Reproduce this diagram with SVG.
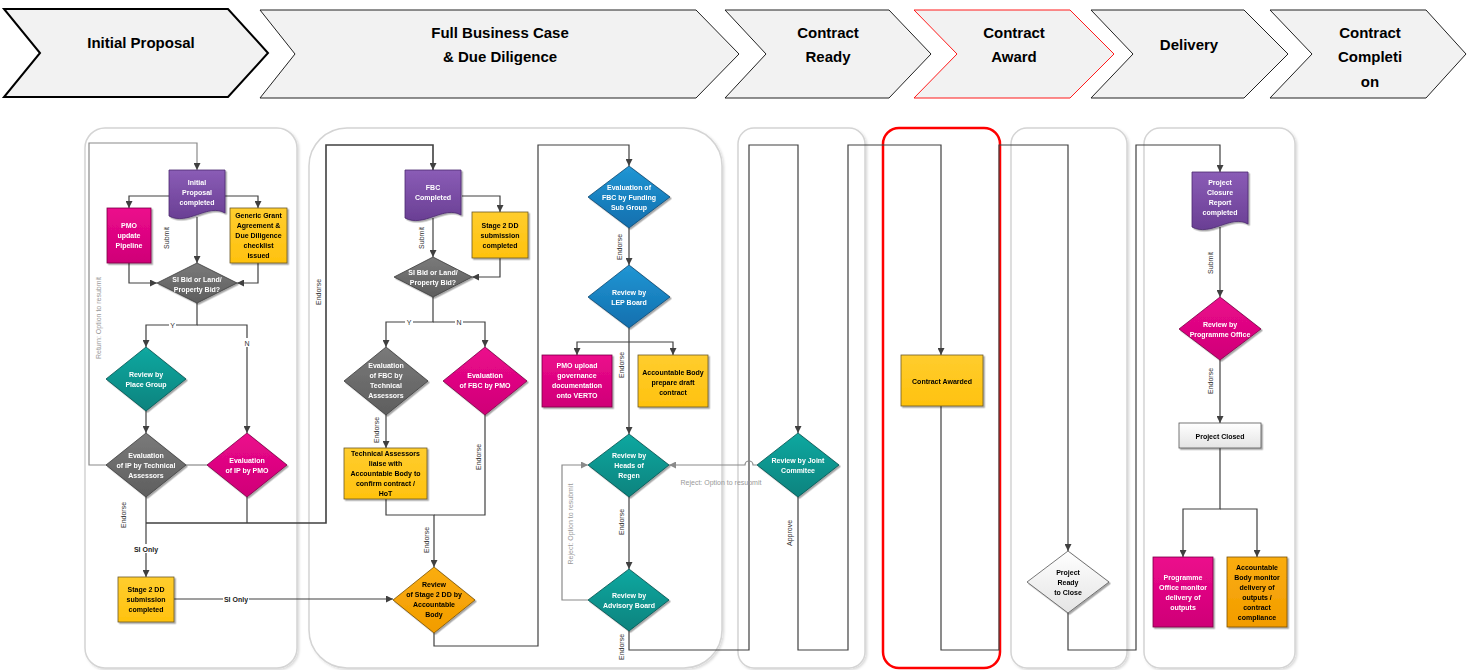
<svg xmlns="http://www.w3.org/2000/svg" width="1467" height="670" viewBox="0 0 1467 670">
<defs>
<style>
.hdr{fill:#f2f2f2;stroke:#222;stroke-width:1}
.hdrt{font:bold 15px "Liberation Sans",Arial,sans-serif;text-anchor:middle;fill:#000}
.panel{fill:#fff;stroke:#d4d4d4;stroke-width:1.5}
.nt{font:bold 7px "Liberation Sans",Arial,sans-serif;text-anchor:middle;fill:#fff}
.dk{fill:#000}
.c{fill:none;stroke:#404040;stroke-width:1.2}
.cg{fill:none;stroke:#8a8a8a;stroke-width:1.2}
.lbl{font:7px "Liberation Sans",Arial,sans-serif;text-anchor:middle;fill:#333}
.lblb{font:bold 7px "Liberation Sans",Arial,sans-serif;text-anchor:middle;fill:#222}
.lblg{font:7px "Liberation Sans",Arial,sans-serif;text-anchor:middle;fill:#999}
.bg{fill:#fff}
.pur{fill:url(#gPur);stroke:#4b2a6e;stroke-width:0.8}
.mag{fill:url(#gMag);stroke:#7a0045;stroke-width:0.8}
.yel{fill:url(#gYel);stroke:#6b5a28;stroke-width:0.8}
.org{fill:url(#gOrg);stroke:#7a5000;stroke-width:0.8}
.gry{fill:url(#gGry);stroke:#3c3c3c;stroke-width:0.8}
.tea{fill:url(#gTea);stroke:#05514e;stroke-width:0.8}
.blu{fill:url(#gBlu);stroke:#0a4670;stroke-width:0.8}
.lgt{fill:url(#gLgt);stroke:#555;stroke-width:0.8}
</style>
<linearGradient id="gPur" x1="0" y1="0" x2="0" y2="1"><stop offset="0" stop-color="#8a5cb6"/><stop offset="1" stop-color="#6a3f94"/></linearGradient>
<linearGradient id="gMag" x1="0" y1="0" x2="0" y2="1"><stop offset="0" stop-color="#ec0a8c"/><stop offset="1" stop-color="#cf0077"/></linearGradient>
<linearGradient id="gYel" x1="0" y1="0" x2="0" y2="1"><stop offset="0" stop-color="#ffcd2e"/><stop offset="1" stop-color="#ffc20e"/></linearGradient>
<linearGradient id="gOrg" x1="0" y1="0" x2="0" y2="1"><stop offset="0" stop-color="#faad10"/><stop offset="1" stop-color="#f29c00"/></linearGradient>
<linearGradient id="gGry" x1="0" y1="0" x2="0" y2="1"><stop offset="0" stop-color="#7a7a7a"/><stop offset="1" stop-color="#5e5e5e"/></linearGradient>
<linearGradient id="gTea" x1="0" y1="0" x2="0" y2="1"><stop offset="0" stop-color="#12a8a0"/><stop offset="1" stop-color="#07837e"/></linearGradient>
<linearGradient id="gBlu" x1="0" y1="0" x2="0" y2="1"><stop offset="0" stop-color="#2196d4"/><stop offset="1" stop-color="#116fae"/></linearGradient>
<linearGradient id="gLgt" x1="0" y1="0" x2="0" y2="1"><stop offset="0" stop-color="#ffffff"/><stop offset="1" stop-color="#e4e4e4"/></linearGradient>
<filter id="sh" x="-20%" y="-20%" width="140%" height="140%"><feDropShadow dx="1.5" dy="1.5" stdDeviation="0.7" flood-color="#000" flood-opacity="0.35"/></filter>
<filter id="psh" x="-5%" y="-5%" width="110%" height="110%"><feDropShadow dx="1.5" dy="1.5" stdDeviation="1.2" flood-color="#000" flood-opacity="0.15"/></filter>
<marker id="ar" viewBox="0 0 8 8" refX="8" refY="4" markerWidth="7" markerHeight="7" markerUnits="userSpaceOnUse" orient="auto"><path d="M0,0 L8,4 L0,8 z" fill="#404040"/></marker>
<marker id="arg" viewBox="0 0 8 8" refX="8" refY="4" markerWidth="7" markerHeight="7" markerUnits="userSpaceOnUse" orient="auto"><path d="M0,0 L8,4 L0,8 z" fill="#8a8a8a"/></marker>
</defs>
<rect x="0" y="0" width="1467" height="670" fill="#fff"/>

<g id="header">
<polygon class="hdr" style="stroke:#000;stroke-width:2" points="4,9 228,9 268,53 228,97 4,97 40,53"/>
<polygon class="hdr" points="260,10 696,10 739,54 696,98 260,98 295,54"/>
<polygon class="hdr" points="725,10 889,10 931,54 889,98 725,98 766,54"/>
<polygon class="hdr" style="stroke:#ff1a1a" points="914,10 1070,10 1114,54 1070,98 914,98 957,54"/>
<polygon class="hdr" points="1091,10 1244,10 1288,54 1244,98 1091,98 1133,54"/>
<polygon class="hdr" points="1270,10 1426,10 1466,54 1426,98 1270,98 1312,54"/>
<text class="hdrt" x="141" y="48">Initial Proposal</text>
<text class="hdrt" x="500" y="38">Full Business Case</text>
<text class="hdrt" x="500" y="62">&amp; Due Diligence</text>
<text class="hdrt" x="828" y="38">Contract</text>
<text class="hdrt" x="828" y="62">Ready</text>
<text class="hdrt" x="1014" y="38">Contract</text>
<text class="hdrt" x="1014" y="62">Award</text>
<text class="hdrt" x="1189" y="50">Delivery</text>
<text class="hdrt" x="1370" y="38">Contract</text>
<text class="hdrt" x="1370" y="62">Completi</text>
<text class="hdrt" x="1370" y="87">on</text>
</g>

<g id="lanes">
<rect class="panel" filter="url(#psh)" x="85" y="128" width="212" height="540" rx="20"/>
<rect class="panel" filter="url(#psh)" x="309" y="128" width="413" height="540" rx="38"/>
<rect class="panel" filter="url(#psh)" x="738" y="128" width="127" height="540" rx="16"/>
<rect x="883" y="128" width="117" height="540" rx="16" fill="#fff" stroke="#ff0000" stroke-width="2.5"/>
<rect class="panel" filter="url(#psh)" x="1011" y="128" width="116" height="540" rx="16"/>
<rect class="panel" filter="url(#psh)" x="1144" y="128" width="151" height="540" rx="16"/>
</g>

<g id="connectors">
<path class="cg" d="M107,465 H89 V143 H197 V170" marker-end="url(#ar)"/>
<path class="c" d="M169,196 H129 V208" marker-end="url(#ar)"/>
<path class="c" d="M225,196 H258 V208" marker-end="url(#ar)"/>
<path class="c" d="M197,217 V263" marker-end="url(#ar)"/>
<path class="c" d="M129,263 V283 H157" marker-end="url(#ar)"/>
<path class="c" d="M258,263 V283 H237" marker-end="url(#ar)"/>
<path class="c" d="M197,303 V325 H146 V347" marker-end="url(#ar)"/>
<path class="c" d="M197,325 H247 V433" marker-end="url(#ar)"/>
<path class="c" d="M146,411 V433" marker-end="url(#ar)"/>
<path class="cg" d="M186,465 H208"/>
<path class="c" d="M146,497 V577" marker-end="url(#ar)"/>
<path class="c" d="M247,497 V523"/>
<path class="c" style="stroke-width:1.6" d="M146,523 H326 V145 H433 V170" marker-end="url(#ar)"/>
<path class="c" d="M174,599 H393" marker-end="url(#ar)"/>

<path class="c" d="M462,196 H500 V212" marker-end="url(#ar)"/>
<path class="c" d="M433,218 V257" marker-end="url(#ar)"/>
<path class="c" d="M500,258 V277 H472" marker-end="url(#ar)"/>
<path class="c" d="M433,297 V322 H386 V347" marker-end="url(#ar)"/>
<path class="c" d="M433,322 H485 V347" marker-end="url(#ar)"/>
<path class="c" d="M386,415 V448" marker-end="url(#ar)"/>
<path class="c" d="M386,499 V515 H434 V567" marker-end="url(#ar)"/>
<path class="c" d="M485,415 V515 H434"/>
<path class="c" d="M434,633 V646 H538 V145 H629 V166" marker-end="url(#ar)"/>
<path class="c" d="M629,228 V265" marker-end="url(#ar)"/>
<path class="c" d="M629,328 V434" marker-end="url(#ar)"/>
<path class="c" d="M629,342 H577 V355" marker-end="url(#ar)"/>
<path class="c" d="M629,342 H673 V355" marker-end="url(#ar)"/>
<path class="c" d="M629,497 V569" marker-end="url(#ar)"/>
<path class="cg" d="M588,600 H562 V465 H588" marker-end="url(#arg)"/>
<path class="c" d="M629,631 V650 H749 V145 H798 V433" marker-end="url(#ar)"/>
<path class="cg" d="M757,465 H753 A4,4 0 0 0 745,465 H669" marker-end="url(#arg)"/>
<path class="c" d="M798,497 V650 H848 V145 H941 V355" marker-end="url(#ar)"/>
<path class="c" d="M941,406 V650 H999 V145 H1068 V551" marker-end="url(#ar)"/>
<path class="c" d="M1068,613 V650 H1136 V145 H1220 V172" marker-end="url(#ar)"/>
<path class="c" d="M1220,227 V297" marker-end="url(#ar)"/>
<path class="c" d="M1220,360 V423" marker-end="url(#ar)"/>
<path class="c" d="M1220,448 V509 H1183 V557" marker-end="url(#ar)"/>
<path class="c" d="M1220,509 H1257 V557" marker-end="url(#ar)"/>

<text class="lblg" transform="translate(100.5,318) rotate(-90)">Return: Option to resubmit</text>
<text class="lbl" transform="translate(168.5,238) rotate(-90)">Submit</text>
<rect class="bg" x="169" y="320" width="7" height="9"/>
<text class="lbl" x="172.5" y="327.5">Y</text>
<rect class="bg" x="243" y="338" width="8" height="9"/>
<text class="lbl" x="247" y="345.5">N</text>
<text class="lbl" transform="translate(125.5,515) rotate(-90)">Endorse</text>
<rect class="bg" x="133" y="544" width="26" height="9"/>
<text class="lblb" x="146" y="551.5">SI Only</text>
<rect class="bg" x="223" y="594" width="26" height="9"/>
<text class="lblb" x="236" y="601.5">SI Only</text>
<text class="lbl" transform="translate(320.5,292) rotate(-90)">Endorse</text>
<text class="lbl" transform="translate(423.5,238) rotate(-90)">Submit</text>
<rect class="bg" x="405" y="318" width="8" height="9"/>
<text class="lbl" x="409" y="324.5">Y</text>
<rect class="bg" x="455" y="318" width="8" height="9"/>
<text class="lbl" x="459" y="324.5">N</text>
<text class="lbl" transform="translate(378.5,430) rotate(-90)">Endorse</text>
<text class="lbl" transform="translate(480.5,457) rotate(-90)">Endorse</text>
<text class="lbl" transform="translate(428.5,540) rotate(-90)">Endorse</text>
<text class="lbl" transform="translate(621.5,247) rotate(-90)">Endorse</text>
<text class="lbl" transform="translate(623.5,365) rotate(-90)">Endorse</text>
<text class="lbl" transform="translate(623.5,522) rotate(-90)">Endorse</text>
<text class="lbl" transform="translate(623.5,647) rotate(-90)">Endorse</text>
<text class="lblg" transform="translate(572.5,524) rotate(-90)">Reject: Option to resubmit</text>
<text class="lblg" x="721" y="485">Reject: Option to resubmit</text>
<text class="lbl" transform="translate(791.5,533) rotate(-90)">Approve</text>
<text class="lbl" transform="translate(1212.5,263) rotate(-90)">Submit</text>
<text class="lbl" transform="translate(1212.5,381) rotate(-90)">Endorse</text>
</g>

<g id="n_ip_doc" filter="url(#sh)"><path class="pur" d="M169,170 H225 V213 C208,203 188,226 169,216 Z"/>
<text class="nt" x="197" y="184.5">Initial</text><text class="nt" x="197" y="194.5">Proposal</text><text class="nt" x="197" y="204.5">completed</text></g>
<g id="n_pmo_pipeline" filter="url(#sh)"><rect class="mag" x="107" y="208" width="44" height="55"/>
<text class="nt" x="129" y="227.5">PMO</text><text class="nt" x="129" y="237.5">update</text><text class="nt" x="129" y="247.5">Pipeline</text></g>
<g id="n_generic" filter="url(#sh)"><rect class="yel" x="230" y="208" width="57" height="55"/>
<text class="nt dk" x="258.5" y="217.5">Generic Grant</text><text class="nt dk" x="258.5" y="227.5">Agreement  &amp;</text><text class="nt dk" x="258.5" y="237.5">Due Diligence</text><text class="nt dk" x="258.5" y="247.5">checklist</text><text class="nt dk" x="258.5" y="257.5">issued</text></g>
<g id="n_sibid1" filter="url(#sh)"><polygon class="gry" points="197,263 237,283 197,303 157,283"/>
<text class="nt" x="197" y="281.5">SI Bid or Land/</text><text class="nt" x="197" y="291.5">Property Bid?</text></g>
<g id="n_place" filter="url(#sh)"><polygon class="tea" points="146,347 186,379 146,411 106,379"/>
<text class="nt" x="146" y="376.5">Review by</text><text class="nt" x="146" y="386.5">Place Group</text></g>
<g id="n_evalip_tech" filter="url(#sh)"><polygon class="gry" points="146,433 186,465 146,497 106,465"/>
<text class="nt" x="146" y="457.5">Evaluation</text><text class="nt" x="146" y="467.5">of IP by Technical</text><text class="nt" x="146" y="477.5">Assessors</text></g>
<g id="n_evalip_pmo" filter="url(#sh)"><polygon class="mag" points="247,433 287,465 247,497 207,465"/>
<text class="nt" x="247" y="462.5">Evaluation</text><text class="nt" x="247" y="472.5">of IP by PMO</text></g>
<g id="n_stage2dd_1" filter="url(#sh)"><rect class="yel" x="118" y="577" width="56" height="45"/>
<text class="nt dk" x="146" y="591.5">Stage 2 DD</text><text class="nt dk" x="146" y="601.5">submission</text><text class="nt dk" x="146" y="611.5">completed</text></g>

<g id="n_fbc_doc" filter="url(#sh)"><path class="pur" d="M405,170 H461 V215 C444,205 424,228 405,218 Z"/>
<text class="nt" x="433" y="189.5">FBC</text><text class="nt" x="433" y="199.5">Completed</text></g>
<g id="n_stage2dd_2" filter="url(#sh)"><rect class="yel" x="472" y="212" width="56" height="46"/>
<text class="nt dk" x="500" y="227.5">Stage 2 DD</text><text class="nt dk" x="500" y="237.5">submission</text><text class="nt dk" x="500" y="247.5">completed</text></g>
<g id="n_sibid2" filter="url(#sh)"><polygon class="gry" points="433,257 472,277 433,297 394,277"/>
<text class="nt" x="433" y="274.5">SI Bid or Land/</text><text class="nt" x="433" y="284.5">Property Bid?</text></g>
<g id="n_evalfbc_tech" filter="url(#sh)"><polygon class="gry" points="386,347 428,381 386,415 344,381"/>
<text class="nt" x="386" y="367.5">Evaluation</text><text class="nt" x="386" y="377.5">of FBC by</text><text class="nt" x="386" y="387.5">Technical</text><text class="nt" x="386" y="397.5">Assessors</text></g>
<g id="n_evalfbc_pmo" filter="url(#sh)"><polygon class="mag" points="485,347 527,381 485,415 443,381"/>
<text class="nt" x="485" y="377.5">Evaluation</text><text class="nt" x="485" y="387.5">of FBC by PMO</text></g>
<g id="n_tech_liaise" filter="url(#sh)"><rect class="yel" x="344" y="448" width="83" height="51"/>
<text class="nt dk" x="385.5" y="455.5">Technical Assessors</text><text class="nt dk" x="385.5" y="465.5">liaise with</text><text class="nt dk" x="385.5" y="475.5">Accountable Body to</text><text class="nt dk" x="385.5" y="485.5">confirm contract /</text><text class="nt dk" x="385.5" y="495.5">HoT</text></g>
<g id="n_review_ab" filter="url(#sh)"><polygon class="org" points="434,567 475,600 434,633 393,600"/>
<text class="nt dk" x="434" y="586.5">Review</text><text class="nt dk" x="434" y="596.5">of Stage 2 DD by</text><text class="nt dk" x="434" y="606.5">Accountable</text><text class="nt dk" x="434" y="616.5">Body</text></g>
<g id="n_funding" filter="url(#sh)"><polygon class="blu" points="629,166 670,197 629,228 588,197"/>
<text class="nt" x="629" y="189.5">Evaluation of</text><text class="nt" x="629" y="199.5">FBC by Funding</text><text class="nt" x="629" y="209.5">Sub Group</text></g>
<g id="n_lep" filter="url(#sh)"><polygon class="blu" points="629,265 670,297 629,328 588,297"/>
<text class="nt" x="629" y="294.5">Review by</text><text class="nt" x="629" y="304.5">LEP Board</text></g>
<g id="n_pmo_upload" filter="url(#sh)"><rect class="mag" x="542" y="355" width="70" height="52"/>
<text class="nt" x="577" y="367.5">PMO upload</text><text class="nt" x="577" y="377.5">governance</text><text class="nt" x="577" y="387.5">documentation</text><text class="nt" x="577" y="397.5">onto VERTO</text></g>
<g id="n_ab_draft" filter="url(#sh)"><rect class="yel" x="638" y="355" width="70" height="52"/>
<text class="nt dk" x="673" y="374.5">Accountable Body</text><text class="nt dk" x="673" y="384.5">prepare draft</text><text class="nt dk" x="673" y="394.5">contract</text></g>
<g id="n_heads" filter="url(#sh)"><polygon class="tea" points="629,434 669,465 629,497 588,465"/>
<text class="nt" x="629" y="457.5">Review by</text><text class="nt" x="629" y="467.5">Heads of</text><text class="nt" x="629" y="477.5">Regen</text></g>
<g id="n_advisory" filter="url(#sh)"><polygon class="tea" points="629,569 669,600 629,631 588,600"/>
<text class="nt" x="629" y="597.5">Review by</text><text class="nt" x="629" y="607.5">Advisory Board</text></g>

<g id="n_joint" filter="url(#sh)"><polygon class="tea" points="798,433 839,465 798,497 757,465"/>
<text class="nt" x="798" y="462.5">Review by Joint</text><text class="nt" x="798" y="472.5">Commitee</text></g>

<g id="n_awarded" filter="url(#sh)"><rect class="yel" x="901" y="355" width="82" height="51"/>
<text class="nt dk" x="942" y="384">Contract Awarded</text></g>

<g id="n_ready_close" filter="url(#sh)"><polygon class="lgt" points="1068,551 1109,582 1068,613 1027,582"/>
<text class="nt dk" x="1068" y="574.5">Project</text><text class="nt dk" x="1068" y="584.5">Ready</text><text class="nt dk" x="1068" y="594.5">to Close</text></g>

<g id="n_closure_doc" filter="url(#sh)"><path class="pur" d="M1192,172 H1248 V224 C1231,214 1211,237 1192,227 Z"/>
<text class="nt" x="1220" y="184.5">Project</text><text class="nt" x="1220" y="194.5">Closure</text><text class="nt" x="1220" y="204.5">Report</text><text class="nt" x="1220" y="214.5">completed</text></g>
<g id="n_review_po" filter="url(#sh)"><polygon class="mag" points="1220,297 1261,329 1220,360 1179,329"/>
<text class="nt" x="1220" y="326.5">Review by</text><text class="nt" x="1220" y="336.5">Programme Office</text></g>
<g id="n_closed" filter="url(#sh)"><rect class="lgt" x="1179" y="423" width="82" height="25"/>
<text class="nt dk" x="1220" y="438.5">Project Closed</text></g>
<g id="n_po_monitor" filter="url(#sh)"><rect class="mag" x="1153" y="557" width="60" height="70"/>
<text class="nt" x="1183" y="579.5">Programme</text><text class="nt" x="1183" y="589.5">Office monitor</text><text class="nt" x="1183" y="599.5">delivery of</text><text class="nt" x="1183" y="609.5">outputs</text></g>
<g id="n_ab_monitor" filter="url(#sh)"><rect class="org" x="1227" y="557" width="60" height="70"/>
<text class="nt dk" x="1257" y="569.5">Accountable</text><text class="nt dk" x="1257" y="579.5">Body monitor</text><text class="nt dk" x="1257" y="589.5">delivery of</text><text class="nt dk" x="1257" y="599.5">outputs /</text><text class="nt dk" x="1257" y="609.5">contract</text><text class="nt dk" x="1257" y="619.5">compliance</text></g>
</svg>
